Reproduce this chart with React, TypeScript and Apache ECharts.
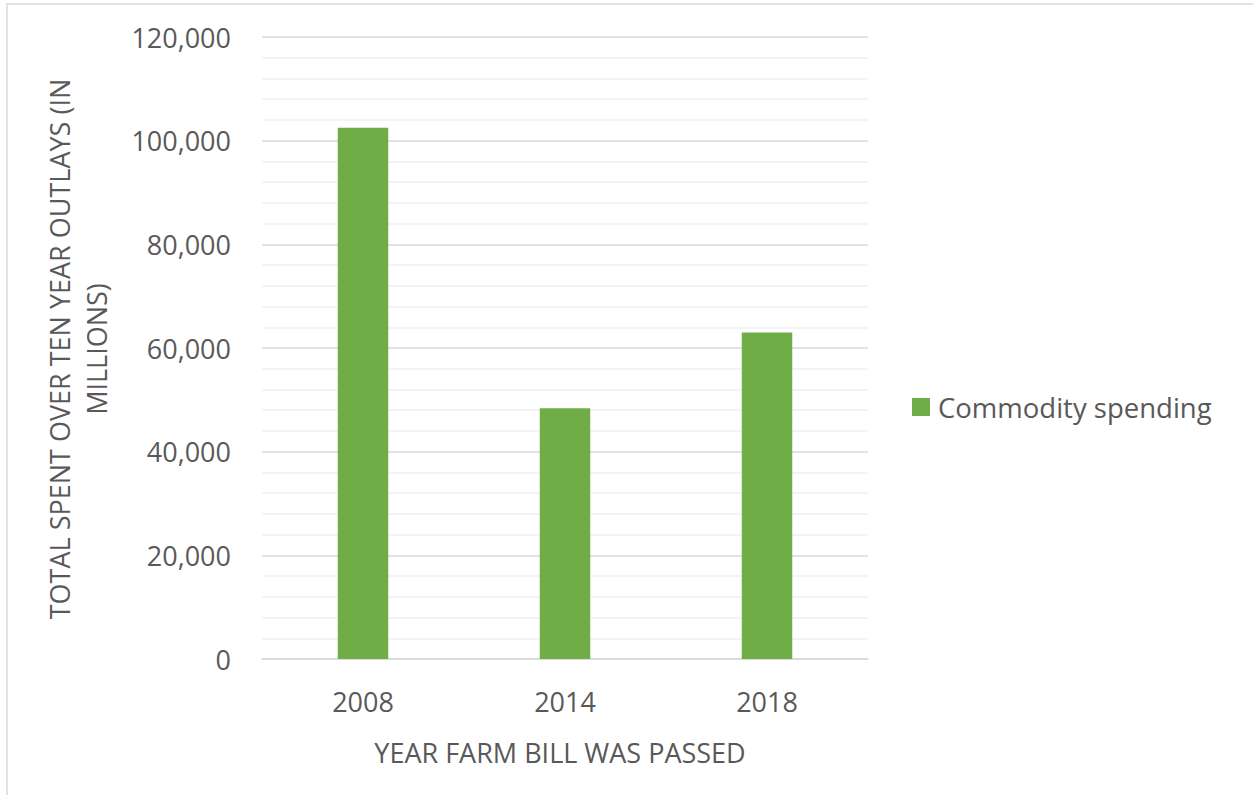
import React, { useEffect, useRef } from "react";
import * as echarts from "echarts";

const categories = ["2008", "2014", "2018"];
const commoditySpending = [102500, 48400, 63000];
const seriesName = "Commodity spending";
const xTitle = "YEAR FARM BILL WAS PASSED";
const yTitle = "TOTAL SPENT OVER TEN YEAR OUTLAYS (IN\nMILLIONS)";

const FONT = "Open Sans";
const TEXT = "#595959";

export default function App() {
  const ref = useRef<HTMLDivElement>(null);
  useEffect(() => {
    const chart = echarts.init(ref.current!, null, { renderer: "svg" });
    chart.setOption({
      animation: false,
      backgroundColor: "#ffffff",
      textStyle: { fontFamily: FONT, color: TEXT },
      grid: { left: 262, right: 385, top: 37, bottom: 136, containLabel: false },
      legend: {
        data: [seriesName],
        left: 907,
        top: 388,
        orient: "vertical",
        icon: "rect",
        itemWidth: 18,
        itemHeight: 18,
        itemGap: 0,
        textStyle: { fontFamily: FONT, fontSize: 27.5, color: TEXT, padding: [0, 0, 0, 3] },
      },
      xAxis: {
        type: "category",
        data: categories,
        name: xTitle,
        nameLocation: "middle",
        nameGap: 80,
        nameTextStyle: { fontFamily: FONT, fontSize: 27, color: TEXT, padding: [0, 10, 0, 0] },
        axisLine: { show: true, lineStyle: { color: "#d9d9d9", width: 1.5 } },
        axisTick: { show: false },
        axisLabel: { fontFamily: FONT, fontSize: 27, color: TEXT, margin: 29 },
      },
      yAxis: {
        type: "value",
        min: 0,
        max: 120000,
        interval: 20000,
        axisLine: { show: false },
        axisTick: { show: false },
        axisLabel: {
          fontFamily: FONT,
          fontSize: 27,
          color: TEXT,
          margin: 31,
          formatter: (v: number) => v.toLocaleString("en-US"),
        },
        splitLine: { show: true, lineStyle: { color: "#d9d9d9", width: 1.5 } },
        minorTick: { show: false, splitNumber: 5 },
        minorSplitLine: { show: true, lineStyle: { color: "#f0f0f0", width: 1.5 } },
      },
      graphic: [
        {
          type: "rect",
          shape: { x: 7, y: 4, width: 1400, height: 1000 },
          style: { fill: "none", stroke: "#d9d9d9", lineWidth: 1.5 },
          silent: true,
          z: -1,
        },
        {
          type: "text",
          x: 78,
          y: 349,
          rotation: Math.PI / 2,
          style: {
            text: yTitle,
            fontFamily: FONT,
            fontSize: 27,
            fill: TEXT,
            align: "center",
            verticalAlign: "middle",
            lineHeight: 37,
          },
        },
      ],
      series: [
        {
          name: seriesName,
          type: "bar",
          data: commoditySpending,
          barWidth: "25%",
          itemStyle: { color: "#70ad47" },
        },
      ],
    });
    return () => chart.dispose();
  }, []);
  return (
    <div
      ref={ref}
      style={{ position: "fixed", left: 0, top: 0, width: 1253, height: 795 }}
    />
  );
}
